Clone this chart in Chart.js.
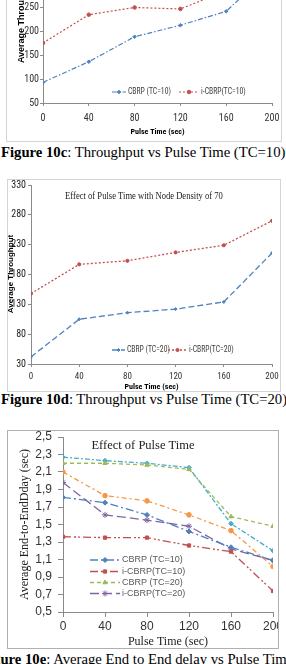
<!DOCTYPE html>
<html><head><meta charset="utf-8">
<script src="https://cdn.jsdelivr.net/npm/chart.js@4.4.1/dist/chart.umd.min.js"></script>
<style>
html,body{margin:0;padding:0;background:#fff;}
body{width:286px;height:664px;overflow:hidden;position:relative;}
.frame{position:absolute;box-sizing:border-box;border:1px solid #d4d4d4;background:#fff;}
.frame canvas{position:absolute;left:0;top:0;}
.cap{position:absolute;white-space:nowrap;font-family:"Liberation Serif","Times New Roman",serif;font-size:14.7px;color:#000;line-height:17px;}
</style></head><body>
<div class="frame" style="left:6px;top:-100px;width:276px;height:242px;"><canvas id="c1" width="274" height="240"></canvas></div>
<div class="cap" style="left:1px;top:144px;"><b>Figure 10c</b>: Throughput vs Pulse Time (TC=10)</div>
<div class="frame" style="left:7px;top:179px;width:274px;height:213px;"><canvas id="c2" width="272" height="211"></canvas></div>
<div class="cap" style="left:1px;top:391px;"><b>Figure 10d</b>: Throughput vs Pulse Time (TC=20)</div>
<div class="frame" style="left:7px;top:430px;width:272px;height:219px;border-color:#b0b0b0;"><canvas id="c3" width="270" height="217"></canvas></div>
<div class="cap" style="left:-20px;top:651px;"><b>Figure 10e</b>: Average End to End delay vs Pulse Time</div>
<script>
// ---------- data ----------
const pulseTimes = [0, 40, 80, 120, 160, 200];

// Figure 10c (TC=10) throughput
const thr10Names = ['CBRP (TC=10)', 'i-CBRP(TC=10)'];
const cbrpThr10  = [93, 136, 188, 212, 241, 330];
const icbrpThr10 = [175, 234, 249, 246, 284, 345];

// Figure 10d (TC=20) throughput
const thr20Names = ['CBRP (TC=20)', 'i-CBRP(TC=20)'];
const cbrpThr20  = [42, 105, 116, 122, 134, 216];
const icbrpThr20 = [148, 197, 203, 217, 229, 270];
const thr20TickValues = [30, 80, 130, 180, 230, 280, 330];

// Figure 10e delay
const delayNames = ['CBRP (TC=10)', 'i-CBRP(TC=10)', 'CBRP (TC=20)', 'i-CBRP(TC=20)', 'Series 5', 'Series 6'];
const delayBlue   = [1.81, 1.75, 1.61, 1.42, 1.24, 1.09];
const delayRed    = [1.36, 1.35, 1.35, 1.26, 1.19, 0.74];
const delayGreen  = [2.20, 2.20, 2.18, 2.13, 1.59, 1.48];
const delayPurple = [1.98, 1.61, 1.55, 1.48, 1.22, 1.09];
const delayCyan   = [2.27, 2.23, 2.20, 2.15, 1.51, 1.20];
const delayOrange = [2.10, 1.83, 1.77, 1.61, 1.43, 1.02];
const delayTickLabels = ['0,5','0,7','0,9','1,1','1,3','1,5','1,7','1,9','2,1','2,3','2,5'];

// ---------- helpers ----------
const pts = arr => arr.map((v, i) => ({x: pulseTimes[i], y: v}));
function fixY(w){ return s => { s.width = w; s.paddingTop = 0; s.paddingBottom = 0; }; }
function fixX(h){ return s => { s.height = h; s.paddingLeft = 0; s.paddingRight = 0; }; }
function ds(label, data, color, dash, style, r, width){
  return {label, data: pts(data), borderColor: color, backgroundColor: color, borderWidth: width||1.3,
    borderDash: dash, pointStyle: style, pointRadius: r, pointBackgroundColor: color, pointBorderColor: color,
    pointBorderWidth: 1, tension: 0, fill: false};
}
const overlay = {
  id: 'overlay',
  afterDatasetsDraw(chart, args, opts){
    const ctx = chart.ctx;
    (opts.texts||[]).forEach(t => {
      ctx.save();
      ctx.font = t.font; ctx.fillStyle = t.color||'#000'; ctx.textAlign = 'center'; ctx.textBaseline = 'middle';
      ctx.translate(t.x, t.y); ctx.rotate(t.rot||0); ctx.scale(t.sx||1, 1);
      ctx.fillText(t.text, 0, 0);
      ctx.restore();
    });
    (opts.items||[]).forEach(it => {
      const d = chart.data.datasets[it.index];
      ctx.save();
      ctx.strokeStyle = d.borderColor; ctx.lineWidth = d.borderWidth; ctx.setLineDash(d.borderDash||[]);
      ctx.beginPath(); ctx.moveTo(it.x, it.y); ctx.lineTo(it.x + it.w, it.y); ctx.stroke();
      ctx.setLineDash([]);
      ctx.fillStyle = d.pointBackgroundColor; ctx.strokeStyle = d.pointBorderColor; ctx.lineWidth = 1;
      if (Chart.helpers && Chart.helpers.drawPoint) {
        Chart.helpers.drawPoint(ctx, {pointStyle: d.pointStyle, radius: d.pointRadius, borderWidth: 1, rotation: 0}, it.x + it.w/2, it.y);
      }
      ctx.font = opts.font; ctx.fillStyle = opts.color; ctx.textAlign = 'left'; ctx.textBaseline = 'middle';
      ctx.translate(it.x + it.w + 2, it.y); ctx.scale(opts.sx||1, 1);
      ctx.fillText(d.label, 0, 0);
      ctx.restore();
    });
  }
};
const narrow = '"Liberation Sans Narrow","Arial Narrow","Roboto Condensed","Liberation Sans",sans-serif';
const axisCol = '#8a8a8a';
function axisX(h, fontSpec, pad, tl, title){
  return {type: 'linear', min: 0, max: 200, afterFit: fixX(h),
    ticks: {stepSize: 40, font: fontSpec, color: '#333', padding: pad, maxRotation: 0},
    grid: {display: true, drawOnChartArea: false, drawTicks: true, tickLength: tl, color: axisCol},
    border: {display: true, color: axisCol, width: 1},
    title: title};
}
function axisY(w, min, max, step, fontSpec, pad, tl, title, cb, col){
  const t = {stepSize: step, font: fontSpec, color: col || '#333', padding: pad, autoSkip: false};
  if (cb) t.callback = cb;
  return {min, max, afterFit: fixY(w), ticks: t,
    grid: {display: true, drawOnChartArea: false, drawTicks: true, tickLength: tl, color: axisCol},
    border: {display: true, color: axisCol, width: 1},
    title: title};
}
const common = {responsive: false, animation: false, devicePixelRatio: 1,
  plugins: {legend: {display: false}, title: {display: false}, tooltip: {enabled: false}}};

// ---------- chart 1 ----------
new Chart(document.getElementById('c1'), {
  type: 'line',
  data: {datasets: [
    ds(thr10Names[0], cbrpThr10, '#4F81BD', [5,2,1.5,2], 'rectRot', 1.8, 1.2),
    ds(thr10Names[1], icbrpThr10, '#C0504D', [2,2], 'circle', 1.8, 1.2)
  ]},
  options: Object.assign({}, common, {
    layout: {padding: {top: 34, right: 9, left: 0, bottom: 0}},
    scales: {
      x: axisX(38, {family: narrow, size: 10}, 6, 3,
        {display: true, text: 'Pulse Time (sec)', color: '#000', font: {family: narrow, size: 8, weight: 'bold', lineHeight: 1}, padding: {top: 0, bottom: 5}}),
      y: axisY(36, 50, 400, 50, {family: narrow, size: 10}, 1, 3,
        {display: true, text: 'Average Throughput', color: '#000', font: {family: '"Liberation Sans",Arial,sans-serif', size: 9, weight: 'bold', lineHeight: 1}, padding: {top: 10.5, bottom: 0}})
    },
    plugins: Object.assign({}, common.plugins, {overlay: {
      font: '9px ' + narrow, color: '#404040', sx: 0.85,
      items: [{index: 0, x: 105, y: 191, w: 14}, {index: 1, x: 172, y: 191, w: 20}]
    }})
  }),
  plugins: [overlay]
});

// ---------- chart 2 ----------
const y2 = axisY(23, 30, 330, 50, {family: narrow, size: 10}, 2, 3, {display: false}, v => String(v), '#222');
y2.afterBuildTicks = s => { s.ticks = thr20TickValues.map(v => ({value: v})); };
new Chart(document.getElementById('c2'), {
  type: 'line',
  data: {datasets: [
    ds(thr20Names[0], cbrpThr20, '#4F81BD', [6,3], 'rectRot', 1.5, 1.3),
    ds(thr20Names[1], icbrpThr20, '#C0504D', [2,2], 'circle', 1.6, 1.3)
  ]},
  options: Object.assign({}, common, {
    layout: {padding: {top: 5, right: 8, left: 0, bottom: 0}},
    scales: {
      x: axisX(27, {family: narrow, size: 9}, 4, 3,
        {display: true, text: 'Pulse Time (sec)', color: '#000', font: {family: narrow, size: 8, weight: 'bold', lineHeight: 1}, padding: {top: 0, bottom: 0}}),
      y: y2
    },
    plugins: Object.assign({}, common.plugins, {overlay: {
      font: '9px ' + narrow, color: '#404040', sx: 0.85,
      texts: [
        {text: 'Effect of Pulse Time with Node Density of 70', x: 136, y: 16, font: '11px "Liberation Serif","Times New Roman",serif', sx: 0.78, color: '#222'},
        {text: 'Average Throughput', x: 3, y: 94, rot: -Math.PI/2, font: 'bold 8px "Liberation Sans",Arial,sans-serif', color: '#000'}
      ],
      items: [{index: 0, x: 104, y: 170, w: 13}, {index: 1, x: 160, y: 170, w: 19}]
    }})
  }),
  plugins: [overlay]
});

// ---------- chart 3 ----------
new Chart(document.getElementById('c3'), {
  type: 'line',
  data: {datasets: [
    ds(delayNames[0], delayBlue,   '#4F81BD', [8,3,2,3], 'rectRot', 2.5),
    ds(delayNames[1], delayRed,    '#C0504D', [8,3,2,2,2,3], 'rect', 2.3),
    ds(delayNames[2], delayGreen,  '#9BBB59', [4,3], 'triangle', 2.5),
    ds(delayNames[3], delayPurple, '#8064A2', [9,4], 'star', 3),
    ds(delayNames[4], delayCyan,   '#4BACC6', [5,2,2,2], 'rectRot', 2.3),
    ds(delayNames[5], delayOrange, '#F79646', [5,3,2,3], 'circle', 2.3)
  ]},
  options: Object.assign({}, common, {
    layout: {padding: {top: 6, right: 5, left: 0, bottom: 0}},
    scales: {
      x: axisX(36, {family: '"Liberation Sans",Arial,sans-serif', size: 12}, 2.5, 5,
        {display: true, text: 'Pulse Time (sec)', color: '#222', font: {family: '"Liberation Serif","Times New Roman",serif', size: 12, lineHeight: 1}, padding: {top: 0, bottom: 0}}),
      y: axisY(55, 0.5, 2.5, 0.2, {family: '"Liberation Sans",Arial,sans-serif', size: 12}, 6, 5,
        {display: true, text: 'Average End-to-EndDday (sec)', color: '#222', font: {family: '"Liberation Serif","Times New Roman",serif', size: 12, lineHeight: 1}, padding: {top: 11, bottom: 0}},
        (v, i) => delayTickLabels[i])
    },
    plugins: Object.assign({}, common.plugins, {overlay: {
      font: '9px "Liberation Sans",Arial,sans-serif', color: '#595959',
      texts: [{text: 'Effect of Pulse Time', x: 135, y: 15, font: '12.5px "Liberation Serif","Times New Roman",serif', color: '#222'}],
      items: [{index: 0, x: 82, y: 129, w: 30}, {index: 1, x: 82, y: 140.5, w: 30}, {index: 2, x: 82, y: 151.5, w: 30}, {index: 3, x: 82, y: 162.5, w: 30}]
    }})
  }),
  plugins: [overlay]
});
</script>
</body></html>
